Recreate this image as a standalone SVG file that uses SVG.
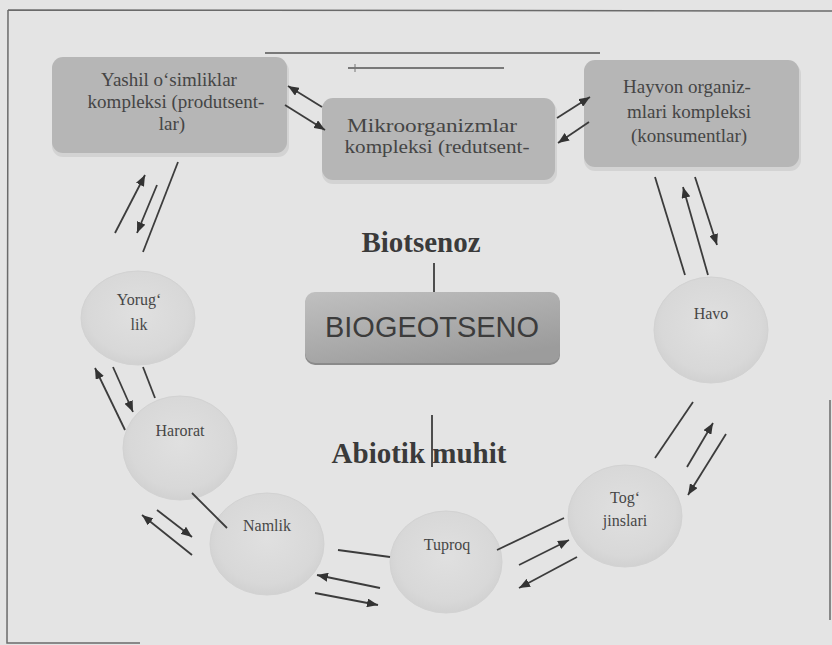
<svg xmlns="http://www.w3.org/2000/svg" width="832" height="645" viewBox="0 0 832 645">
<style>
.frame{stroke:#6a6a6a;stroke-width:1.5;fill:none}
.box{fill:#b6b6b6}
.boxsh{fill:#d3d3d3}
.btxt{font-family:"Liberation Serif","Times New Roman",serif;font-size:19px;fill:#454545;text-anchor:middle}
.ctxt{font-family:"Liberation Serif","Times New Roman",serif;font-size:16px;fill:#474747;text-anchor:middle}
.circ{fill:url(#cg);stroke:#d2d2d2;stroke-width:1}
.head{font-family:"Liberation Serif","Times New Roman",serif;font-weight:bold;font-size:29px;fill:#3a3a3a;text-anchor:middle}
.ln{stroke:#3c3c3c;stroke-width:1.8;fill:none}
.ar{stroke:#3c3c3c;stroke-width:1.8;fill:none;marker-end:url(#ah)}
</style>
<defs>
<marker id="ah" markerUnits="userSpaceOnUse" markerWidth="12" markerHeight="9" refX="11" refY="4.5" orient="auto">
<path d="M0,0 L11,4.5 L0,9 z" fill="#333"/>
</marker>
<radialGradient id="cg" cx="0.5" cy="0.45" r="0.55">
<stop offset="0" stop-color="#e0e0e0"/>
<stop offset="0.8" stop-color="#d8d8d8"/>
<stop offset="1" stop-color="#d1d1d1"/>
</radialGradient>
<linearGradient id="bg2" x1="0" y1="0" x2="0.6" y2="1">
<stop offset="0" stop-color="#c0c0c0"/>
<stop offset="1" stop-color="#9c9c9c"/>
</linearGradient>
</defs>
<rect x="0" y="0" width="832" height="645" fill="#e4e4e4"/>
<g id="frame">
<path class="frame" d="M8,10 L832,11 M8,10 L7,643 L140,643 M830,400 L830,620"/>
<path d="M265,53 L600,53 M348,68 L504,68" stroke="#555" stroke-width="1.6" fill="none"/>
<path d="M355,64 L355,72" stroke="#777" stroke-width="1"/>
</g>
<g id="yashil">
<rect class="boxsh" x="52" y="60" width="237" height="97" rx="11"/>
<rect class="box" x="52" y="57" width="235" height="96" rx="11"/>
<text class="btxt" x="169" y="86">Yashil o‘simliklar</text>
<text class="btxt" x="176" y="108">kompleksi (produtsent-</text>
<text class="btxt" x="172" y="130">lar)</text>
</g>
<g id="mikro">
<rect class="boxsh" x="322" y="101" width="235" height="83" rx="11"/>
<rect class="box" x="322" y="98" width="233" height="82" rx="11"/>
<text class="btxt" x="432" y="132" textLength="170" lengthAdjust="spacingAndGlyphs">Mikroorganizmlar</text>
<text class="btxt" x="437" y="153" textLength="185" lengthAdjust="spacingAndGlyphs">kompleksi (redutsent-</text>
</g>
<g id="hayvon">
<rect class="boxsh" x="584" y="63" width="217" height="108" rx="11"/>
<rect class="box" x="584" y="60" width="215" height="107" rx="11"/>
<text class="btxt" x="687" y="93">Hayvon organiz-</text>
<text class="btxt" x="689" y="118">mlari kompleksi</text>
<text class="btxt" x="689" y="142">(konsumentlar)</text>
</g>
<g id="biotsenoz">
<text class="head" x="421" y="252">Biotsenoz</text>
</g>
<g id="biogeotseno">
<rect x="305" y="294" width="255" height="71" rx="10" fill="#8a8a8a"/>
<rect x="305" y="292" width="255" height="71" rx="10" fill="url(#bg2)"/>
<text x="432" y="337" font-family="'Liberation Sans',Arial,sans-serif" font-size="30" fill="#3c3c3c" text-anchor="middle" textLength="214" lengthAdjust="spacingAndGlyphs">BIOGEOTSENO</text>
</g>
<g id="abiotik">
<text class="head" x="419" y="463">Abiotik muhit</text>
</g>
<g id="yoruglik">
<ellipse class="circ" cx="138" cy="318" rx="57" ry="47"/>
<text class="ctxt" x="139" y="305">Yorug‘</text>
<text class="ctxt" x="139" y="330">lik</text>
</g>
<g id="harorat">
<ellipse class="circ" cx="180" cy="448" rx="57" ry="52"/>
<text class="ctxt" x="180" y="436">Harorat</text>
</g>
<g id="namlik">
<ellipse class="circ" cx="267" cy="544" rx="57" ry="51"/>
<text class="ctxt" x="267" y="531">Namlik</text>
</g>
<g id="tuproq">
<ellipse class="circ" cx="446" cy="562" rx="56" ry="51"/>
<text class="ctxt" x="447" y="550">Tuproq</text>
</g>
<g id="toglar">
<ellipse class="circ" cx="625" cy="516" rx="57" ry="51"/>
<text class="ctxt" x="625" y="503">Tog‘</text>
<text class="ctxt" x="625" y="526">jinslari</text>
</g>
<g id="havo">
<ellipse class="circ" cx="711" cy="330" rx="57" ry="53"/>
<text class="ctxt" x="711" y="319">Havo</text>
</g>
<g id="connectors">
<path class="ln" d="M434,263 L434,292"/>
<path class="ln" d="M432,415 L432,467"/>
<path class="ar" d="M322,107 L288,86"/>
<path class="ar" d="M285,105 L325,130"/>
<path class="ar" d="M557,118 L590,97"/>
<path class="ar" d="M589,122 L558,143"/>
<path class="ar" d="M115,233 L145,175"/>
<path class="ar" d="M157,185 L137,233"/>
<path class="ln" d="M178,162 L143,252"/>
<path class="ln" d="M655,177 L685,275"/>
<path class="ar" d="M708,275 L683,187"/>
<path class="ar" d="M695,177 L717,245"/>
<path class="ln" d="M693,402 L655,458"/>
<path class="ar" d="M687,467 L713,423"/>
<path class="ar" d="M726,434 L688,495"/>
<path class="ln" d="M564,518 L497,550"/>
<path class="ar" d="M519,565 L569,540"/>
<path class="ar" d="M577,557 L519,588"/>
<path class="ln" d="M338,550 L390,557"/>
<path class="ar" d="M380,588 L317,575"/>
<path class="ar" d="M315,593 L378,605"/>
<path class="ln" d="M192,493 L227,528"/>
<path class="ar" d="M157,510 L192,537"/>
<path class="ar" d="M192,555 L142,515"/>
<path class="ar" d="M125,430 L95,368"/>
<path class="ar" d="M113,367 L133,412"/>
<path class="ln" d="M143,367 L155,398"/>
</g>
</svg>
